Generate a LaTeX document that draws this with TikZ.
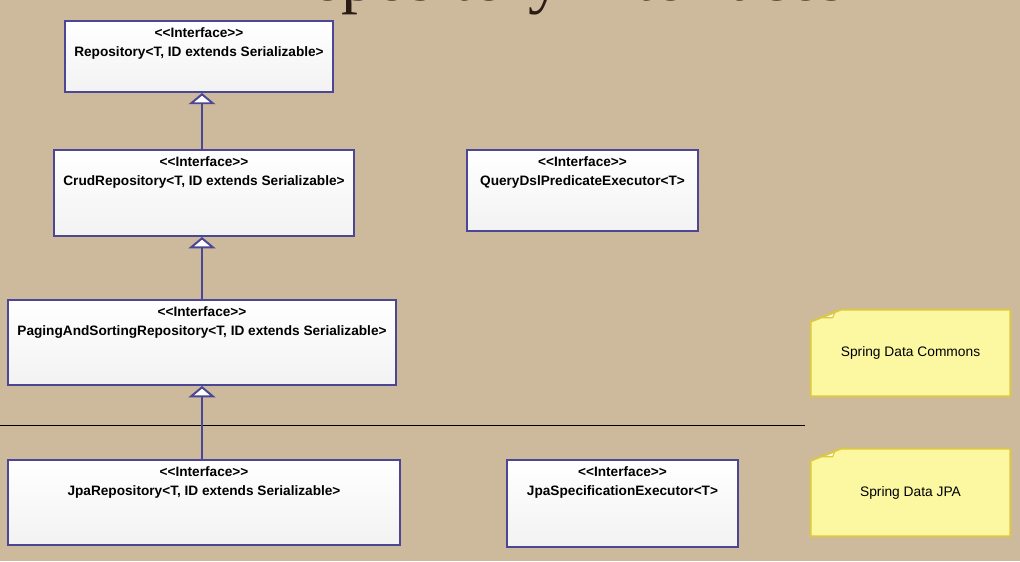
\documentclass[tikz,border=0pt]{standalone}
\usepackage{fontspec}
\newfontfamily\umlfont{Liberation Sans}
\newfontfamily\titlefont{Liberation Serif}
\usepackage{tikz}
\usetikzlibrary{arrows.meta,calc,positioning}
\definecolor{paper}{HTML}{CDBA9D}
\definecolor{umlblue}{HTML}{4B4696}
\definecolor{noteyellow}{HTML}{FCF8A2}
\definecolor{noteedge}{HTML}{DCC846}
\definecolor{titlebrown}{HTML}{2A1B15}

\tikzset{
  iface/.style={draw=umlblue, line width=1.4pt, top color=white, bottom color=black!5},
  ifacetext/.style={anchor=north, inner sep=0pt, yshift=-5pt, align=center,
    font=\umlfont\bfseries\fontsize{9.7}{13.5}\selectfont},
  note/.style={minimum width=4.975cm, font=\umlfont\fontsize{9.8}{12}\selectfont},
  noteline/.style={fill=noteyellow, draw=noteedge, line width=1.4pt, line join=round},
  inherit/.style={draw=umlblue, line width=1.4pt,
    -{Triangle[open, width=19pt, length=8pt, fill=white]}}
}

\begin{document}
\begin{tikzpicture}[x=0.025cm, y=-0.025cm]
  \fill[paper] (0,0) rectangle (1020,561);
  \useasboundingbox (0,0) rectangle (1020,561);

  % slide title, cut off by the top edge
  \node[anchor=base west, inner sep=0pt, text=titlebrown,
        font=\titlefont\fontsize{48}{48}\selectfont] (title) at (266,0) {Repository Interfaces};

  % Spring Data Commons
  \node[iface, minimum width=6.7cm, minimum height=1.775cm,
        label={[ifacetext]north:{<<Interface>>\\Repository<T, ID extends Serializable>}}]
        (repo) at (199,56.5) {};
  \node[iface, minimum width=7.5cm, minimum height=2.15cm,
        label={[ifacetext]north:{<<Interface>>\\CrudRepository<T, ID extends Serializable>}}]
        (crud) at (204,193) {};
  \node[iface, minimum width=5.775cm, minimum height=2.025cm,
        label={[ifacetext]north:{<<Interface>>\\QueryDslPredicateExecutor<T>}}]
        (querydsl) at (582.5,190.5) {};
  \node[iface, minimum width=9.7cm, minimum height=2.125cm,
        label={[ifacetext]north:{<<Interface>>\\PagingAndSortingRepository<T, ID extends Serializable>}}]
        (paging) at (202,342.5) {};

  % Spring Data JPA
  \node[iface, minimum width=9.8cm, minimum height=2.125cm,
        label={[ifacetext]north:{<<Interface>>\\JpaRepository<T, ID extends Serializable>}}]
        (jpa) at (204,502.5) {};
  \node[iface, minimum width=5.775cm, minimum height=2.175cm,
        label={[ifacetext]north:{<<Interface>>\\JpaSpecificationExecutor<T>}}]
        (jpaspec) at (622.5,503.5) {};

  % notes
  \node[note, minimum height=2.15cm] (commons) at (910.5,353) {};
  \filldraw[noteline] (commons.south west) -- ($(commons.north west)+(0,12)$)
    -- ($(commons.north west)+(30,0)$) -- (commons.north east)
    -- (commons.south east) -- cycle;
  \filldraw[noteline, fill=noteyellow!30!white, line width=0.8pt]
    ($(commons.north west)+(12,8)$) -- ($(commons.north west)+(24,3)$)
    -- ($(commons.north west)+(22,8)$) -- cycle;
  \node[note] at (commons) {Spring Data Commons};

  \node[note, minimum height=2.175cm] (jpanote) at (910.5,492.5) {};
  \filldraw[noteline] (jpanote.south west) -- ($(jpanote.north west)+(0,12)$)
    -- ($(jpanote.north west)+(30,0)$) -- (jpanote.north east)
    -- (jpanote.south east) -- cycle;
  \filldraw[noteline, fill=noteyellow!30!white, line width=0.8pt]
    ($(jpanote.north west)+(12,8)$) -- ($(jpanote.north west)+(24,3)$)
    -- ($(jpanote.north west)+(22,8)$) -- cycle;
  \node[note] at (jpanote) {Spring Data JPA};

  % divider
  \draw[line width=0.7pt] (0,425) -- (805,425);

  % inheritance
  \draw[inherit] (crud.north -| paging) -- (repo.south -| paging);
  \draw[inherit] (paging.north) -- (crud.south -| paging);
  \draw[inherit] (jpa.north -| paging) -- (paging.south);
\end{tikzpicture}
\end{document}
